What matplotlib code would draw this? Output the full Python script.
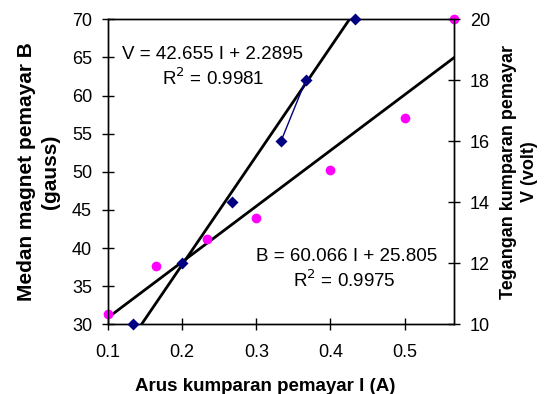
import numpy as np
import matplotlib
matplotlib.use("Agg")
import matplotlib.pyplot as plt

plt.rcParams["font.family"] = ["Liberation Sans", "DejaVu Sans"]

## -- data --
# magnetic field B (left axis) v. current I
i_b = [0.1, 0.1646, 0.233, 0.3, 0.4, 0.5, 0.5667]
b_gauss = [31.4, 37.7, 41.2, 44.0, 50.2, 57.1, 70.0]
# voltage V (right axis) v. current I
i_v = [0.1333, 0.2, 0.2667, 0.3333, 0.3667, 0.4333]
v_volt = [10, 12, 14, 16, 18, 20]
# trendlines as drawn (slope, intercept)
fit_b = (73.05, 23.57)
fit_v = (35.66, 4.82)
eq_v = ["V = 42.655 I + 2.2895", "R$^2$ = 0.9981"]
eq_b = ["B = 60.066 I + 25.805", "R$^2$ = 0.9975"]
x_ticks = [0.1, 0.2, 0.3, 0.4, 0.5]
## -- end data --


def main():
    fig = plt.figure(figsize=(5.53, 3.94), dpi=100)
    ax = fig.add_axes([0.1953, 0.177, 0.6257, 0.774])
    ax2 = ax.twinx()

    xs = np.array([0.1, 0.5667])

    # B series and its trendline
    ax.plot(xs, fit_b[0] * xs + fit_b[1], color="black", lw=2)
    ax.plot(i_b, b_gauss, "o", color="#FF00FF", ms=7, mec="none",
            clip_on=False, zorder=3)

    # V series and its trendline
    ax2.plot(xs, fit_v[0] * xs + fit_v[1], color="black", lw=2)
    ax2.plot(i_v[3:5], v_volt[3:5], color="#000080", lw=1)
    ax2.plot(i_v, v_volt, "D", color="#000080", ms=6.5, mec="none",
             clip_on=False, zorder=3)

    ax.set_xlim(0.1, 0.5667)
    ax.set_ylim(30, 70)
    ax2.set_ylim(10, 20)
    ax.set_xticks(x_ticks)
    ax.set_xticklabels(["%.1f" % t for t in x_ticks])
    ax.set_yticks(np.arange(30, 71, 5))
    ax2.set_yticks(np.arange(10, 21, 2))

    for a in (ax, ax2):
        a.tick_params(direction="inout", length=9, width=1, labelsize=13,
                      pad=7)
        for s in a.spines.values():
            s.set_linewidth(1)
    ax.tick_params(axis="x", pad=10)

    ax.set_xlabel("Arus kumparan pemayar I (A)", fontsize=13.5,
                  fontweight="bold")
    ax.xaxis.set_label_coords(0.455, -0.175)
    ax.set_ylabel("Medan magnet pemayar B\n(gauss)", fontsize=15,
                  fontweight="bold", linespacing=1.3)
    ax.yaxis.set_label_coords(-0.14, 0.5)
    ax2.set_ylabel("Tegangan kumparan pemayar\nV (volt)", fontsize=13,
                   fontweight="bold", linespacing=1.3)
    ax2.yaxis.set_label_coords(1.133, 0.5)

    # trendline equations
    ax.text(0.2406, 64.79, eq_v[0], fontsize=13.5, ha="center",
            va="baseline")
    ax.text(0.2418, 61.38, eq_v[1], fontsize=13.5, ha="center",
            va="baseline")
    ax.text(0.4213, 38.34, eq_b[0], fontsize=13.5, ha="center",
            va="baseline")
    ax.text(0.4188, 34.93, eq_b[1], fontsize=13.5, ha="center",
            va="baseline")

    fig.savefig("out.png", dpi=100)


if __name__ == "__main__":
    main()
